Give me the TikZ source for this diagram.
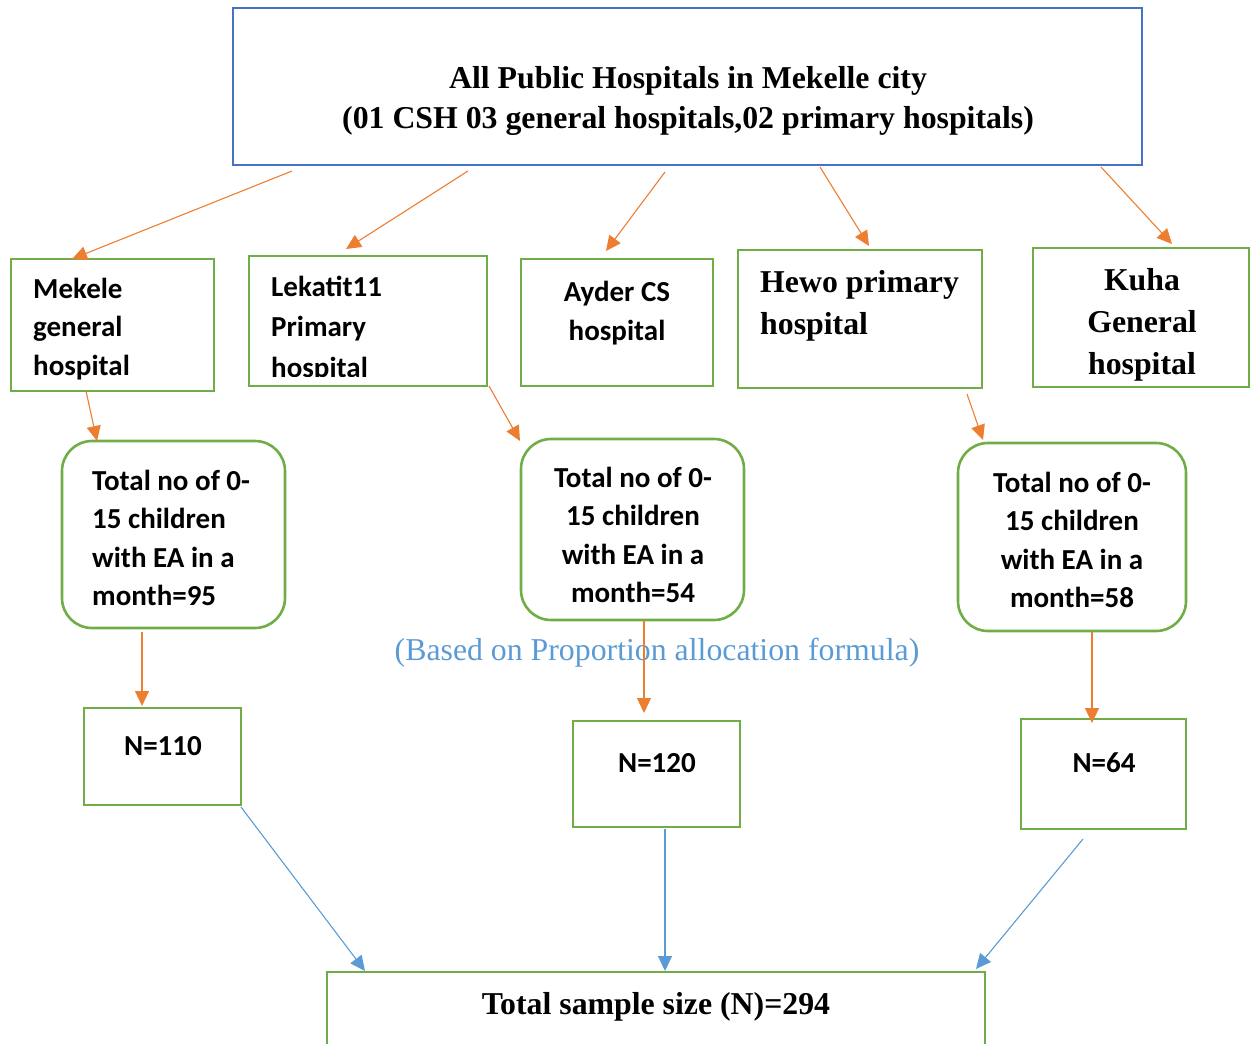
\documentclass[tikz,border=0pt]{standalone}
\usepackage{fontspec}
\setmainfont{Liberation Serif}
\newfontfamily\calib{Carlito}
\usetikzlibrary{arrows.meta}
\definecolor{cOrange}{HTML}{ED7D31}
\definecolor{cGreen}{HTML}{70AD47}
\definecolor{cBlue}{HTML}{4472C4}
\definecolor{cLight}{HTML}{5B9BD5}
\begin{document}
\begin{tikzpicture}[x=1pt,y=-1pt,
 gbox/.style={draw=cGreen,line width=2.6pt,inner sep=0pt,outer sep=0pt},
 rbox/.style={gbox,rounded corners=30pt},
 ctxt/.style={font={\calib\bfseries\fontsize{29}{38.5}\selectfont},inner sep=0pt},
 ttxt/.style={font={\bfseries\fontsize{31.8}{42}\selectfont},inner sep=0pt},
 oarr/.style={draw=cOrange,line width=1.1pt,-{Triangle[length=15pt,width=14pt]}},
 barr/.style={draw=cLight,line width=1.1pt,-{Triangle[length=15pt,width=14pt]}}]
\useasboundingbox (0,0) rectangle (1251,1044);
\clip (0,0) rectangle (1251,1044);

% top box
\node[draw=cBlue,line width=2.6pt,inner sep=0pt,minimum width=909pt,minimum height=157pt] (top) at (687.5,86.5) {};
\node[ttxt,align=center,font={\bfseries\fontsize{31.8}{40}\selectfont}] (toptxt) at (688,101)
  {All Public Hospitals in Mekelle city\\(01 CSH 03 general hospitals,02 primary hospitals)};

% hospital boxes
\node[gbox,minimum width=203pt,minimum height=132pt] (mek) at (112.5,325) {};
\node[ctxt,align=left,anchor=west] (mektxt) at (33,329) {Mekele\\general\\hospital};

\node[gbox,minimum width=238pt,minimum height=130pt] (lek) at (368,321) {};
\begin{scope}
\clip (251,258) rectangle (485,376);
\node[ctxt,align=left,anchor=west,font={\calib\bfseries\fontsize{29}{40.5}\selectfont}] (lektxt) at (271,329) {Lekatit11\\Primary\\hospital};
\end{scope}

\node[gbox,minimum width=192pt,minimum height=127pt] (ayd) at (617,322.5) {};
\node[ctxt,align=center] (aydtxt) at (617,313) {Ayder CS\\hospital};

\node[gbox,minimum width=244pt,minimum height=138pt] (hew) at (860,319) {};
\node[ttxt,align=left,anchor=west] (hewtxt) at (760,306) {Hewo primary\\hospital};

\node[gbox,minimum width=216pt,minimum height=139pt] (kuh) at (1141,317.5) {};
\node[ttxt,align=center] (kuhtxt) at (1142,325) {Kuha\\General\\hospital};

% rounded count boxes
\node[rbox,minimum width=223pt,minimum height=187pt] (cl) at (173.5,534.5) {};
\node[ctxt,align=left,anchor=west] (cltxt) at (92,538) {Total no of 0-\\15 children\\with EA in a\\month=95};

\node[rbox,minimum width=223pt,minimum height=181pt] (cm) at (632.5,529.5) {};
\begin{scope}
\clip (525,445) rectangle (740,602);
\node[ctxt,align=center] (cmtxt) at (633,535) {Total no of 0-\\15 children\\with EA in a\\month=54};
\end{scope}

\node[rbox,minimum width=228pt,minimum height=188pt] (cr) at (1072,537) {};
\node[ctxt,align=center] (crtxt) at (1072,540) {Total no of 0-\\15 children\\with EA in a\\month=58};

% caption
\node[inner sep=0pt,text=cLight,font={\fontsize{31.8}{38}\selectfont}] (cap) at (657,653) {(Based on Proportion allocation formula)};

% N boxes
\node[gbox,minimum width=157pt,minimum height=97pt] (n1) at (162.5,756.5) {};
\node[ctxt] (n1txt) at (163,746) {N=110};
\node[gbox,minimum width=167pt,minimum height=106pt] (n2) at (656.5,774) {};
\node[ctxt] (n2txt) at (657,763) {N=120};
\node[gbox,minimum width=165pt,minimum height=110pt] (n3) at (1103.5,774) {};
\node[ctxt] (n3txt) at (1104,763) {N=64};

% total box
\node[gbox,minimum width=658pt,minimum height=88pt] (tot) at (656,1016) {};
\node[ttxt] (tottxt) at (656,1007) {Total sample size (N)=294};

% connector end points
\coordinate (a1s) at (292,171); \coordinate (a1e) at (72,259);
\coordinate (a2s) at (468,171); \coordinate (a2e) at (346,249);
\coordinate (a3s) at (665,172); \coordinate (a3e) at (606,251);
\coordinate (a4s) at (820,167); \coordinate (a4e) at (869,246);
\coordinate (a5s) at (1101,167); \coordinate (a5e) at (1172,244);
\coordinate (a6s) at (86,391); \coordinate (a6e) at (97,441);
\coordinate (a7s) at (489,386); \coordinate (a7e) at (520,441);
\coordinate (a8s) at (967,394); \coordinate (a8e) at (983,440);
\coordinate (a9s) at (142,632); \coordinate (a9e) at (142,706);
\coordinate (a10s) at (644,620); \coordinate (a10e) at (644,713);
\coordinate (a11s) at (1092,632); \coordinate (a11e) at (1092,723);
\coordinate (b1s) at (241,807); \coordinate (b1e) at (365,971);
\coordinate (b2s) at (665,829); \coordinate (b2e) at (665,971);
\coordinate (b3s) at (1083,839); \coordinate (b3e) at (976,969);

\draw[oarr] (a1s) -- (a1e);
\draw[oarr] (a2s) -- (a2e);
\draw[oarr] (a3s) -- (a3e);
\draw[oarr] (a4s) -- (a4e);
\draw[oarr] (a5s) -- (a5e);
\draw[oarr] (a6s) -- (a6e);
\draw[oarr] (a7s) -- (a7e);
\draw[oarr] (a8s) -- (a8e);
\draw[oarr] (a9s) -- (a9e);
\draw[oarr] (a10s) -- (a10e);
\draw[oarr] (a11s) -- (a11e);
\draw[barr] (b1s) -- (b1e);
\draw[barr] (b2s) -- (b2e);
\draw[barr] (b3s) -- (b3e);
\end{tikzpicture}
\end{document}
